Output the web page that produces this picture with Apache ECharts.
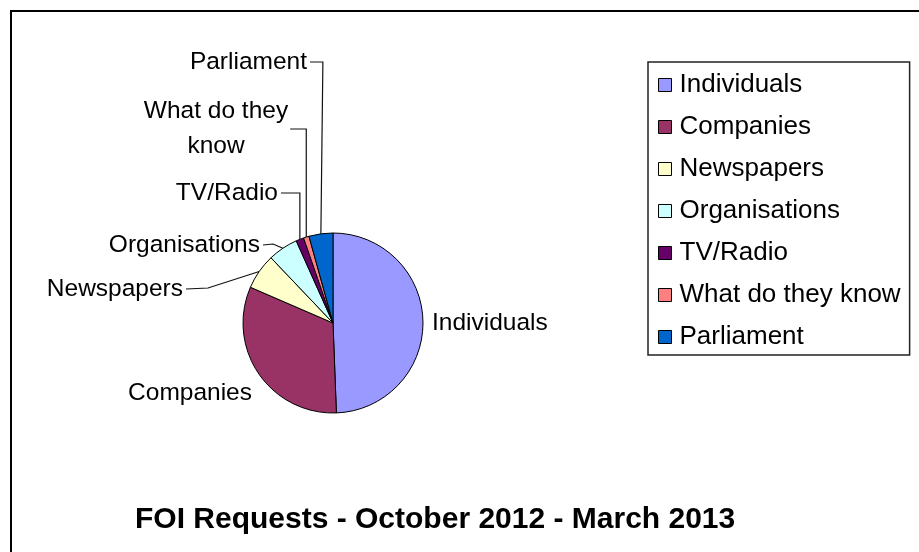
<!DOCTYPE html>
<html>
<head>
<meta charset="utf-8">
<script src="https://cdn.jsdelivr.net/npm/echarts@6/dist/echarts.min.js"></script>
<style>html,body{margin:0;padding:0;background:#fff}#c{width:919px;height:552px}</style>
</head>
<body>
<div id="c"></div>
<script>
// ---- data ----
var categories = ['Individuals', 'Companies', 'Newspapers', 'Organisations', 'TV/Radio', 'What do they know', 'Parliament'];
var shares = [49.4, 32.1, 6.4, 5.4, 1.4, 1.0, 4.3];
var titleText = 'FOI Requests - October 2012 - March 2013';

// ---- styles ----
var colors = ['#9999FF', '#993366', '#FFFFCC', '#CCFFFF', '#660066', '#FF8080', '#0066CC'];
var FONT = '"Liberation Sans", Arial, sans-serif';
// label anchor placement (text positions only) and leader style
var labelPlace = [
  {x: 432, y: 323, align: 'left', line: 'none'},
  {x: 252, y: 393, align: 'right', line: 'none'},
  {x: 183, y: 289, align: 'right', line: 'slope', dx: 22},
  {x: 260, y: 245, align: 'right', line: 'slope', dx: 10},
  {x: 278, y: 193, align: 'right', line: 'vert'},
  {x: 216, y: 129, align: 'center', line: 'vert'},
  {x: 307, y: 62, align: 'right', line: 'vert', off: 2}
];

var data = categories.map(function (n, i) {
  return {name: n, value: shares[i], itemStyle: {color: colors[i]}};
});

var chart = echarts.init(document.getElementById('c'), null, {renderer: 'canvas'});
chart.setOption({
  animation: false,
  backgroundColor: '#fff',
  graphic: [{
    type: 'rect', z: -1, silent: true,
    shape: {x: 11, y: 11, width: 1000, height: 1000},
    style: {fill: 'none', stroke: '#000', lineWidth: 2}
  }],
  title: {
    text: titleText,
    left: 130, top: 500,
    textStyle: {fontFamily: FONT, fontSize: 30, fontWeight: 'bold', color: '#000'}
  },
  legend: {
    orient: 'vertical',
    left: 648, top: 62,
    padding: [9, 9, 4, 10],
    itemGap: 14,
    itemWidth: 13, itemHeight: 13,
    icon: 'rect',
    backgroundColor: '#fff',
    borderColor: '#222', borderWidth: 1.5,
    selectedMode: false,
    itemStyle: {borderColor: '#000', borderWidth: 1},
    textStyle: {fontFamily: FONT, fontSize: 26, color: '#000', padding: [0, 0, 0, 3], lineHeight: 28},
    data: categories
  },
  series: [{
    type: 'pie',
    center: [333, 323],
    radius: 90,
    startAngle: 90,
    clockwise: true,
    avoidLabelOverlap: false,
    emphasis: {disabled: true},
    itemStyle: {borderColor: '#000', borderWidth: 1},
    label: {
      show: true,
      position: 'outside',
      fontFamily: FONT, fontSize: 24.5, color: '#000', lineHeight: 35,
      formatter: function (p) {
        return p.name === 'What do they know' ? 'What do they\nknow' : p.name;
      }
    },
    labelLine: {show: true, length: 10, length2: 10, lineStyle: {color: '#111', width: 1.2}},
    labelLayout: function (params) {
      var cfg = labelPlace[params.dataIndex];
      var pts = params.labelLinePoints;
      var res = {x: cfg.x, y: cfg.y, align: cfg.align, verticalAlign: 'middle'};
      if (pts) {
        var e = pts[0];
        var endX;
        if (cfg.align === 'right') endX = cfg.x + 3;
        else if (cfg.align === 'center') endX = cfg.x + params.labelRect.width / 2 + 2;
        else endX = cfg.x - 3;
        var ly = cfg.y;
        if (cfg.line === 'none') {
          res.labelLinePoints = [[e[0], e[1]], [e[0], e[1]], [e[0], e[1]]];
        } else if (cfg.line === 'vert') {
          var vx = e[0] + (cfg.off || 0);
          res.labelLinePoints = [[e[0], e[1]], [vx, ly], [endX, ly]];
        } else {
          res.labelLinePoints = [[e[0], e[1]], [endX + cfg.dx, ly - 1], [endX, ly]];
        }
      }
      return res;
    },
    data: data
  }]
});
</script>
</body>
</html>
